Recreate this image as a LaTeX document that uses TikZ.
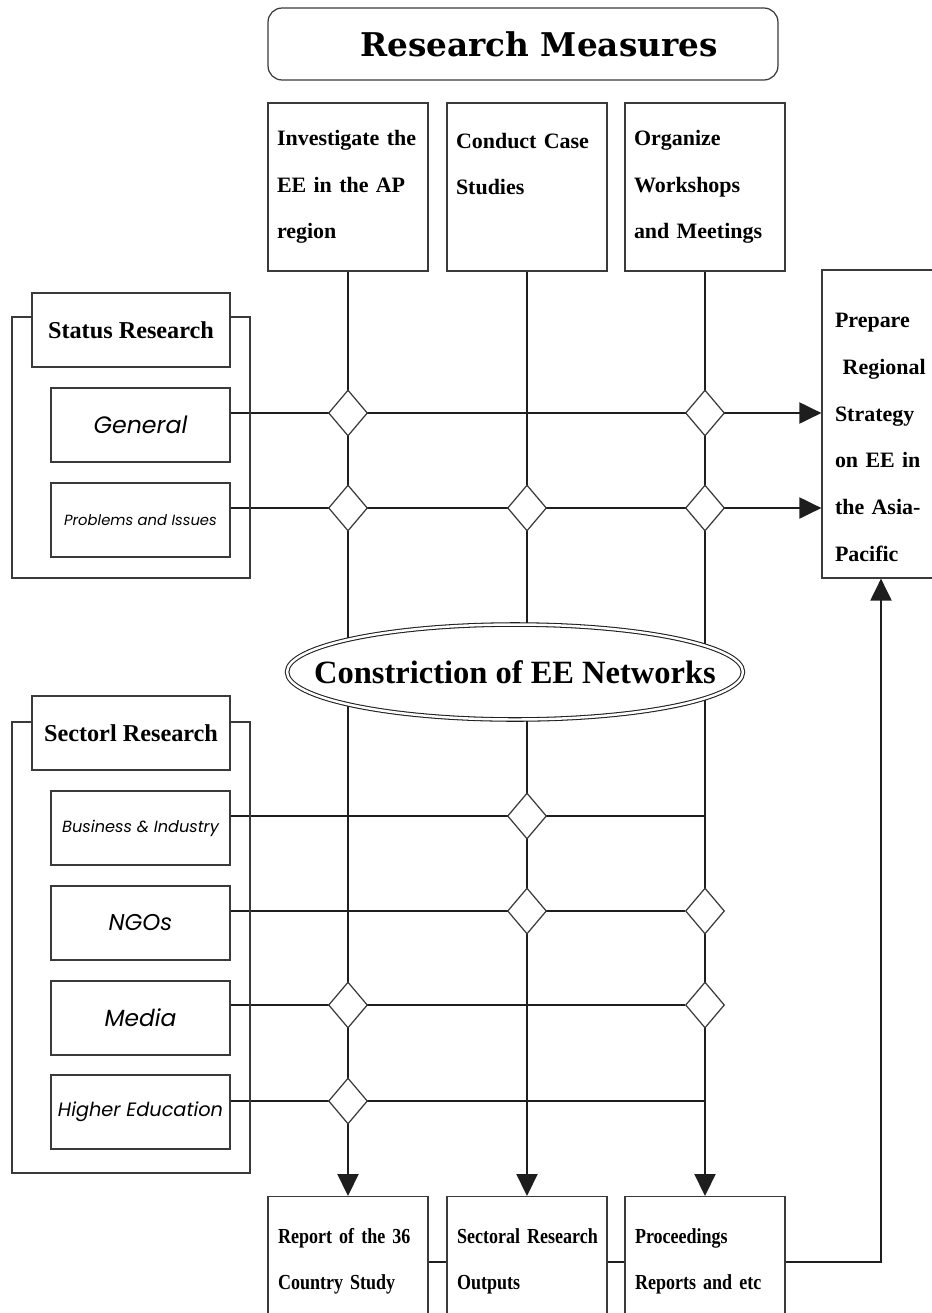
\documentclass[tikz,border=0pt]{standalone}
\usepackage{fontspec}
\setmainfont{Liberation Serif}
\newfontfamily\headfont{DejaVu Serif}
\newfontfamily\condfont{Liberation Serif}[FakeStretch=0.84]
\newfontfamily\gothicfont{Poppins}
\usepackage{tikz}
\usetikzlibrary{
  arrows.meta,
  positioning,
  shapes.geometric,
  backgrounds,
  calc,
}
\definecolor{lineCol}{HTML}{1E1E1E}
\definecolor{boxCol}{HTML}{3A3A3A}
\tikzset{
  headbox/.style={
    rectangle, rounded corners=8pt, draw=boxCol, line width=0.7pt,
    minimum width=10.2cm, minimum height=1.44cm, inner sep=0pt,
    font=\headfont\bfseries\fontsize{18.6}{22}\selectfont,
  },
  topbox/.style={
    rectangle, draw=boxCol, line width=0.7pt, fill=white,
    minimum width=3.2cm, minimum height=3.36cm, inner xsep=0.18cm,
    text width=2.84cm, align=left,
    font=\bfseries\fontsize{12.5}{26.5}\selectfont,
  },
  outbox/.style={
    rectangle, draw=boxCol, line width=0.7pt, fill=white, anchor=north,
    minimum width=3.2cm, minimum height=2.6cm, inner xsep=0.2cm,
    text width=2.8cm, align=left,
    font=\condfont\bfseries\fontsize{12.2}{26.2}\selectfont,
  },
  groupframe/.style={
    rectangle, draw=boxCol, line width=0.7pt, minimum width=4.76cm,
  },
  titlebox/.style={
    rectangle, draw=boxCol, line width=0.8pt, fill=white,
    minimum width=3.96cm, minimum height=1.48cm, inner sep=0pt,
    font=\bfseries\fontsize{13.8}{16}\selectfont,
  },
  itembox/.style={
    rectangle, draw=boxCol, line width=0.7pt, fill=white,
    minimum width=3.58cm, minimum height=1.48cm, inner sep=0pt,
  },
  junc/.style={
    diamond, draw=boxCol, line width=0.7pt, fill=white,
    minimum width=0.78cm, minimum height=0.92cm, inner sep=0pt,
  },
  conn/.style={draw=lineCol, line width=1.2pt},
  arrowHead/.style={-{Triangle[length=0.44cm,width=0.42cm]}},
}
\newcommand{\fillline}[2]{\makebox[#1][s]{#2}}

\begin{document}
\begin{tikzpicture}[x=0.02cm, y=-0.02cm]
\useasboundingbox (0,0) rectangle (932,1313);

% Header
\node[headbox] (measures) at (523,44) {\hspace*{0.64cm}Research Measures};

% Measures
\node[topbox] (inv) at (348,187)
  {\fillline{2.84cm}{Investigate the}\\ \fillline{2.84cm}{EE in the AP}\\ region};
\node[topbox] (cas) at (527,187)
  {\fillline{2.84cm}{Conduct Case}\\ Studies\\ \mbox{}};
\node[topbox] (org) at (705,187) {Organize\\ Workshops\\ and Meetings};

% Strategy box
\node[rectangle, draw=boxCol, line width=0.7pt, fill=white,
  minimum width=2.36cm, minimum height=6.16cm, inner xsep=0.26cm,
  text width=1.84cm, align=left, font=\bfseries\fontsize{12.5}{26.6}\selectfont]
  (prep) at (881,424)
  {\rule{0pt}{0.82cm}Prepare\\ \hspace*{0.35em}Regional\\ Strategy\\ \fillline{1.84cm}{on EE in}\\
   \fillline{1.84cm}{the Asia-}\\ Pacific};

% Status research
\node[groupframe, minimum height=5.22cm] (statusFrm) at (131,447.5) {};
\node[titlebox] (statusTtl) at (131,330) {Status Research};
\node[itembox, font=\gothicfont\itshape\fontsize{13.5}{16}\selectfont] (gen) at (140.5,425) {General};
\node[itembox, font=\gothicfont\itshape\fontsize{8.4}{10}\selectfont] (prob) at (140.5,520) {Problems and Issues};

% Sectoral research
\node[groupframe, minimum height=9.02cm] (sectorFrm) at (131,947.5) {};
\node[titlebox] (sectorTtl) at (131,733) {Sectorl Research};
\node[itembox, font=\gothicfont\itshape\fontsize{9.2}{11}\selectfont] (bus) at (140.5,828) {Business \& Industry};
\node[itembox, font=\gothicfont\itshape\fontsize{13}{16}\selectfont] (ngo) at (140.5,923) {NGOs};
\node[itembox, font=\gothicfont\itshape\fontsize{13.3}{16}\selectfont] (med) at (140.5,1018) {Media};
\node[itembox, font=\gothicfont\itshape\fontsize{11}{13}\selectfont] (hig) at (140.5,1112) {Higher Education};

% Junctions
\foreach \nm/\x/\y in {jGen1/348/413, jGen3/705/413, jPro1/348/508, jPro2/527/508,
    jPro3/705/508, jBus2/527/816, jNgo2/527/911, jNgo3/705/911,
    jMed1/348/1005, jMed3/705/1005, jHig1/348/1101}
  \node[junc] (\nm) at (\x,\y) {};

% Network ellipse
\node[ellipse, draw=lineCol, double, double distance=1.4pt, line width=0.6pt, fill=white,
  minimum width=9.12cm, minimum height=1.9cm, inner sep=0pt,
  font=\bfseries\fontsize{18.5}{22}\selectfont] (net) at (515,672)
  {\makebox[0pt]{Constriction of EE Networks}};

% Outputs
\node[outbox] (rep) at (348,1196) {Report of the 36\\ Country Study};
\node[outbox] (sec) at (527,1196) {\fillline{2.8cm}{Sectoral Research}\\ Outputs};
\node[outbox] (proc) at (705,1196) {Proceedings\\ Reports and etc};

% Connectors
\begin{scope}[on background layer]
  \draw[conn, arrowHead] (inv) -- (rep);
  \draw[conn, arrowHead] (cas) -- (sec);
  \draw[conn, arrowHead] (org) -- (proc);
  \draw[conn, arrowHead] (gen.east |- jGen1) -- (jGen3 -| prep.west);
  \draw[conn, arrowHead] (prob.east |- jPro1) -- (jPro3 -| prep.west);
  \draw[conn] (bus.east |- jBus2) -- (jBus2 -| org);
  \draw[conn] (ngo.east |- jNgo2) -- (jNgo3);
  \draw[conn] (med.east |- jMed1) -- (jMed3);
  \draw[conn] (hig.east |- jHig1) -- (jHig1 -| org);
  \draw[conn] (rep) -- (sec);
  \draw[conn] (sec) -- (proc);
  \draw[conn, arrowHead] (proc) -| (prep);
\end{scope}

\end{tikzpicture}
\end{document}
